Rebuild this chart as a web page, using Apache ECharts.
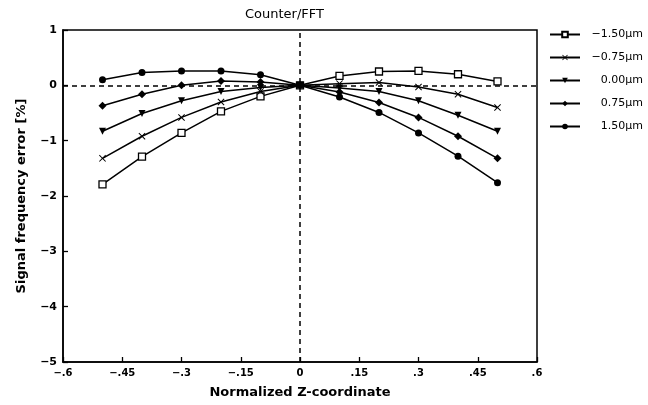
<!DOCTYPE html>
<html>
<head>
<meta charset="utf-8">
<script src="https://cdn.jsdelivr.net/npm/echarts@6/dist/echarts.min.js"></script>
<style>
  html, body { margin: 0; padding: 0; background: #fff; }
  #chart { width: 648px; height: 405px; }
</style>
</head>
<body>
<div id="chart"></div>
<script>
// normalized z positions of the measurement points
const zValues = [-0.5, -0.4, -0.3, -0.2, -0.1, 0, 0.1, 0.2, 0.3, 0.4, 0.5];

const seriesNames = ['\u22121.50\u00b5m', '\u22120.75\u00b5m', '0.00\u00b5m', '0.75\u00b5m', '1.50\u00b5m'];

// signal frequency error [%]
const errNeg150 = [-1.79, -1.29, -0.86, -0.47, -0.20, 0, 0.17, 0.25, 0.26, 0.20, 0.07];
const errNeg075 = [-1.32, -0.92, -0.58, -0.30, -0.11, 0, 0.03, 0.05, -0.03, -0.16, -0.40];
const err000 = [-0.83, -0.51, -0.28, -0.11, -0.04, 0, -0.05, -0.11, -0.28, -0.54, -0.83];
const err075 = [-0.37, -0.16, 0.00, 0.08, 0.06, 0, -0.12, -0.31, -0.58, -0.92, -1.32];
const err150 = [0.10, 0.23, 0.26, 0.26, 0.19, 0, -0.21, -0.49, -0.86, -1.28, -1.76];

const xTickLabels = ['\u2212.6', '\u2212.45', '\u2212.3', '\u2212.15', '0', '.15', '.3', '.45', '.6'];
const yTickLabels = ['\u22125', '\u22124', '\u22123', '\u22122', '\u22121', '0', '1'];

const crossPath = 'path://M0,1L1,0L5,4L9,0L10,1L6,5L10,9L9,10L5,6L1,10L0,9L4,5Z';
const triPath = 'path://M0,0L10,0L5,9Z';

const font = 'DejaVu Sans';

function pts(vals) {
  return zValues.map((z, i) => [z, vals[i]]);
}

function mk(name, vals, symbol, size, hollow) {
  return {
    name: name,
    type: 'line',
    data: pts(vals),
    symbol: symbol,
    symbolSize: size,
    showAllSymbol: true,
    lineStyle: { color: '#000', width: 1.5 },
    itemStyle: hollow
      ? { color: '#fff', borderColor: '#000', borderWidth: 1.3 }
      : { color: '#000', borderColor: '#000', borderWidth: 0 },
    emphasis: { disabled: true },
    animation: false
  };
}

const chart = echarts.init(document.getElementById('chart'));

const series = [
  mk(seriesNames[0], errNeg150, 'rect', 7, true),
  mk(seriesNames[1], errNeg075, crossPath, 7, false),
  mk(seriesNames[2], err000, triPath, 7, false),
  mk(seriesNames[3], err075, 'diamond', 8, false),
  mk(seriesNames[4], err150, 'circle', 7, false)
];

// dashed zero lines
series[0].markLine = {
  silent: true,
  symbol: 'none',
  label: { show: false },
  lineStyle: { color: '#000', width: 1.5, type: [5, 4] },
  data: [{ yAxis: 0 }, { xAxis: 0 }],
  animation: false
};

chart.setOption({
  backgroundColor: '#fff',
  animation: false,
  title: {
    text: 'Counter/FFT',
    left: 240,
    top: 3,
    textStyle: { fontFamily: font, fontSize: 13, fontWeight: 'normal', color: '#000' }
  },
  legend: {
    orient: 'vertical',
    left: 544,
    top: 24,
    itemWidth: 30,
    itemHeight: 7,
    itemGap: 12,
    data: seriesNames,
    formatter: '{a|{name}}',
    textStyle: {
      fontFamily: font,
      fontSize: 11,
      color: '#000',
      rich: { a: { width: 58, align: 'right', fontFamily: font, fontSize: 11, color: '#000' } }
    }
  },
  grid: {
    left: 63,
    right: 111,
    top: 30,
    bottom: 43,
    show: true,
    borderColor: '#000',
    borderWidth: 1.5
  },
  xAxis: {
    type: 'value',
    min: -0.6,
    max: 0.6,
    interval: 0.15,
    name: 'Normalized Z-coordinate',
    nameLocation: 'middle',
    nameGap: 24,
    nameTextStyle: { fontFamily: font, fontSize: 13, fontWeight: 'bold', color: '#000' },
    axisLine: { onZero: false, lineStyle: { color: '#000', width: 1.5 } },
    axisTick: { inside: true, length: 5, lineStyle: { color: '#000', width: 1.3 } },
    axisLabel: {
      fontFamily: font, fontSize: 10, fontWeight: 'bold', color: '#000', margin: 6,
      formatter: v => xTickLabels[Math.round((v + 0.6) / 0.15)]
    },
    splitLine: { show: false }
  },
  yAxis: {
    type: 'value',
    min: -5,
    max: 1,
    interval: 1,
    name: 'Signal frequency error [%]',
    nameLocation: 'middle',
    nameGap: 35,
    nameTextStyle: { fontFamily: font, fontSize: 13, fontWeight: 'bold', color: '#000' },
    axisLine: { onZero: false, lineStyle: { color: '#000', width: 1.5 } },
    axisTick: { inside: true, length: 5, lineStyle: { color: '#000', width: 1.3 } },
    axisLabel: {
      fontFamily: font, fontSize: 11, fontWeight: 'bold', color: '#000', margin: 6,
      formatter: v => yTickLabels[Math.round(v + 5)]
    },
    splitLine: { show: false }
  },
  series: series
});
</script>
</body>
</html>
